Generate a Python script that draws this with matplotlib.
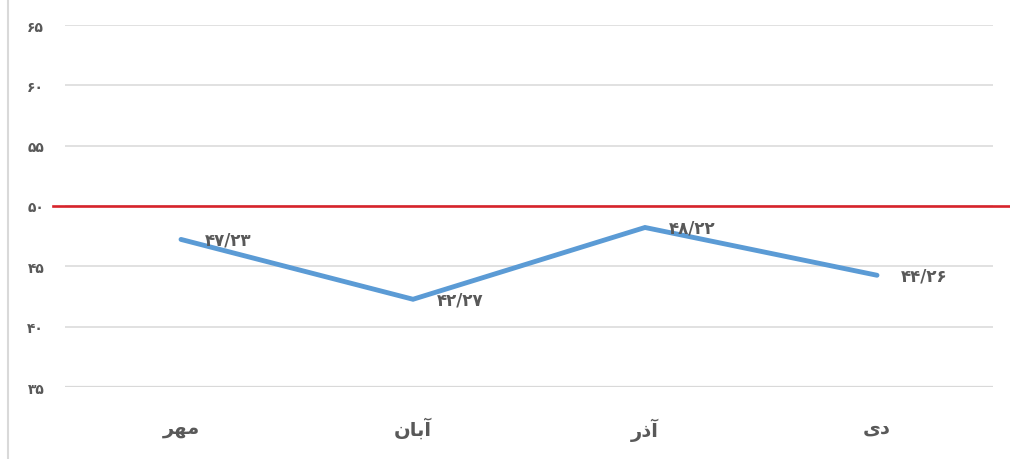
import matplotlib
matplotlib.use('Agg')
from matplotlib import pyplot as plt
from matplotlib.lines import Line2D

plt.rcParams['font.family'] = ['DejaVu Sans']

# months (pre-shaped Persian glyphs, visual order)
months = ['\uFEAE\uFEEC\uFEE3', '\uFEE5\uFE8E\uFE91\uFE81', '\uFEAD\uFEAB\uFE81', '\uFEEF\uFEA9']
values = [47.23, 42.27, 48.22, 44.26]
threshold = 50
yticks = [35, 40, 45, 50, 55, 60, 65]

fa_digits = str.maketrans('0123456789.', '۰۱۲۳۴۵۶۷۸۹/')


def fa(s):
    return str(s).translate(fa_digits)


grey = '#595959'
fig = plt.figure(figsize=(10.1, 4.6), dpi=100)
ax = fig.add_axes([65 / 1010, 72 / 460, 928 / 1010, 362 / 460])

x = list(range(len(months)))
ax.set_xlim(-0.5, len(months) - 0.5)
ax.set_ylim(35, 65)

for t in yticks:
    ax.axhline(t, color='#d9d9d9', lw=1.6 if t == 35 else 1.1, zorder=1)

ax.axhline(threshold, xmin=-12 / 928, xmax=945 / 928, color='#d7232b',
           lw=1.9, clip_on=False, zorder=2)

ax.plot(x, values, color='#5b9bd5', lw=3.5, solid_capstyle='round',
        solid_joinstyle='miter', zorder=3)

for xi, v in zip(x, values):
    ax.annotate(fa('%.2f' % v), (xi, v), xytext=(17, 0), textcoords='offset points',
                ha='left', va='center', fontsize=12, fontweight='bold', color=grey, zorder=4)

ax.set_yticks(yticks)
ax.set_yticklabels([fa(t) for t in yticks], fontsize=10, fontweight='bold', color=grey)
ax.set_xticks(x)
ax.set_xticklabels(months, fontsize=14, fontweight='bold', color=grey)
ax.tick_params(axis='y', length=0, pad=15)
ax.tick_params(axis='x', length=0, pad=22)
for s in ax.spines.values():
    s.set_visible(False)

fig.add_artist(Line2D([8 / 1010, 8 / 1010], [0, 1], color='#d9d9d9', lw=1.5,
                      transform=fig.transFigure))

fig.savefig('out.png', dpi=100)
